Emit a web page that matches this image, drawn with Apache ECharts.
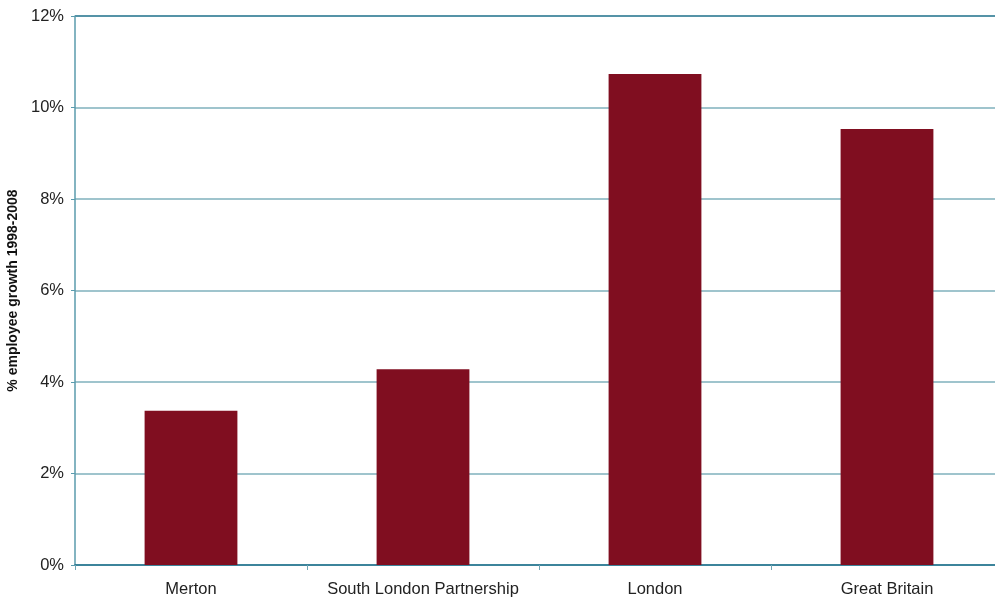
<!DOCTYPE html>
<html>
<head>
<meta charset="utf-8">
<script src="https://cdn.jsdelivr.net/npm/echarts@6/dist/echarts.min.js"></script>
<style>
  html, body { margin: 0; padding: 0; background: #fff; }
  #chart { width: 995px; height: 598px; }
</style>
</head>
<body>
<div id="chart"></div>
<script>
// Employee growth by area, 1998-2008
const categories = ['Merton', 'South London Partnership', 'London', 'Great Britain'];
const growth = [3.37, 4.28, 10.73, 9.53];
const yTicks = [0, 2, 4, 6, 8, 10, 12];

const chart = echarts.init(document.getElementById('chart'));
const font = '"Liberation Sans", Arial, sans-serif';

chart.setOption({
  animation: false,
  // plot area runs slightly past the right edge of the canvas
  grid: { left: 75, top: 16, width: 928, height: 549, containLabel: false, outerBoundsMode: 'none' },
  xAxis: {
    type: 'category',
    data: categories,
    axisLine: { lineStyle: { color: '#1d6f8a', width: 1.5 } },
    axisTick: { show: true, length: 5, lineStyle: { color: '#6fa6b5' } },
    axisLabel: { color: '#222', fontFamily: font, fontSize: 16.5, margin: 16, interval: 0 }
  },
  yAxis: {
    type: 'value',
    min: yTicks[0],
    max: yTicks[yTicks.length - 1],
    interval: 2,
    name: '% employee growth 1998-2008',
    nameLocation: 'middle',
    nameGap: 49,
    nameTextStyle: { color: '#111', fontFamily: font, fontSize: 14, fontWeight: 'bold' },
    axisLine: { show: true, lineStyle: { color: '#5a9bad', width: 1.5 } },
    axisTick: { show: true, length: 4, lineStyle: { color: '#5a9bad' } },
    axisLabel: { color: '#222', fontFamily: font, fontSize: 16.5, margin: 11, formatter: v => v + '%' },
    splitLine: {
      lineStyle: {
        color: ['#7fb0bd', '#7fb0bd', '#7fb0bd', '#7fb0bd', '#7fb0bd', '#7fb0bd', '#1d6f8a'],
        width: 1.5
      }
    }
  },
  series: [{
    type: 'bar',
    data: growth,
    barWidth: '40%',
    itemStyle: { color: '#800e20' }
  }]
});
</script>
</body>
</html>
